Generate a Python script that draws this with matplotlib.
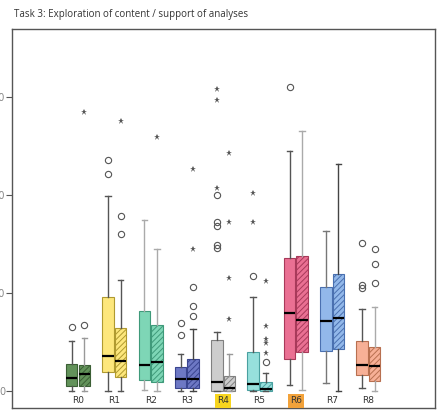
import numpy as np
import matplotlib
matplotlib.use("Agg")
import matplotlib.pyplot as plt

# Group labels and fill colours
groups = ["R0", "R1", "R2", "R3", "R4", "R5", "R6", "R7", "R8"]
fills = ["#62925a", "#fde77c", "#7ed6b6", "#6d78c4", "#cdcdcd",
         "#96e0dc", "#ea7093", "#92b8ea", "#f7b096"]
edges = ["#3b5f35", "#b09a30", "#3f9a7a", "#3a4590", "#808080",
         "#4aa0a0", "#a83a5a", "#4a70b0", "#b87050"]

# Box statistics, plain boxes
solid_q1 = [5, 19, 11, 3.4, 0.3, 1, 33, 41, 16]
solid_med = [13, 36, 27, 12, 9, 7, 80, 71, 26.5]
solid_q3 = [28, 96, 82, 24.5, 52, 39.5, 136, 106, 51]
solid_lo = [0, 0, 1, 0, 0, 0, 6, 8.5, 2.7]
solid_hi = [51, 199, 175, 38, 60, 96, 245, 163, 84]

# Box statistics, hatched boxes
hatch_q1 = [5, 14, 9.5, 2.7, 0.3, 0, 40, 42.5, 10.5]
hatch_med = [17, 31, 30, 12.6, 2.7, 1.7, 72, 75, 25]
hatch_q3 = [26.5, 64, 67, 32.7, 15.3, 9, 138, 119, 45]
hatch_lo = [0, 0, 0, 0, 0, 0, 1, 0, 0]
hatch_hi = [54, 113, 145, 63, 37.4, 18, 265, 232, 86]

# Outliers (circles) and extreme values (stars)
solid_circles = [[65], [236, 221], [], [69, 57], [146, 149, 200, 172, 168],
                 [117], [310.5], [], [151, 108, 105]]
solid_stars = [[], [], [], [], [308, 297, 207], [202, 172], [], [], []]
hatch_circles = [[67], [179, 160], [], [106, 87, 77], [], [30], [], [],
                 [145, 130, 110]]
hatch_stars = [[285], [276], [259], [145, 226.5], [115, 73.5, 242.5, 172],
               [112.6, 66, 53, 49, 38.5], [], [], []]

# Whisker shades
solid_wcol = ["#555555", "#555555", "#aaaaaa", "#555555", "#555555",
              "#555555", "#555555", "#777777", "#555555"]
hatch_wcol = ["#999999", "#555555", "#aaaaaa", "#444444", "#999999",
              "#555555", "#aaaaaa", "#444444", "#aaaaaa"]

label_bg = {"R4": "#f7d51e", "R6": "#f2a23a"}

off = 0.173
width = 0.317

fig = plt.figure(figsize=(4.39, 4.12), dpi=100)
ax = fig.add_axes([12 / 439, 4 / 412, 423 / 439, 379 / 412])

x = np.arange(len(groups))


def draw(pos, q1, med, q3, lo, hi, wcol, hatched):
    stats = []
    for i in range(len(groups)):
        stats.append(dict(med=med[i], q1=q1[i], q3=q3[i],
                          whislo=lo[i], whishi=hi[i], fliers=[]))
    bp = ax.bxp(stats, positions=pos, widths=width, patch_artist=True,
                showfliers=False, capwidths=0.15,
                medianprops=dict(color="black", linewidth=1.6))
    for i, box in enumerate(bp["boxes"]):
        box.set_facecolor(fills[i])
        box.set_edgecolor(edges[i])
        box.set_linewidth(0.8)
        if hatched:
            box.set_hatch("//////")
    for i in range(len(groups)):
        for ln in bp["whiskers"][2 * i:2 * i + 2] + bp["caps"][2 * i:2 * i + 2]:
            ln.set_color(wcol[i])
            ln.set_linewidth(1.0)


plt.rcParams["hatch.linewidth"] = 0.7
draw(x - off, solid_q1, solid_med, solid_q3, solid_lo, solid_hi, solid_wcol, False)
draw(x + off, hatch_q1, hatch_med, hatch_q3, hatch_lo, hatch_hi, hatch_wcol, True)

for i in range(len(groups)):
    for xs, circ, star in [(i - off, solid_circles[i], solid_stars[i]),
                           (i + off, hatch_circles[i], hatch_stars[i])]:
        if circ:
            ax.plot([xs] * len(circ), circ, "o", mfc="none", mec="#555555",
                    ms=4.5, mew=0.8)
        if star:
            ax.plot([xs] * len(star), star, "*", color="#555555", ms=4.5, mew=0)

for i, g in enumerate(groups):
    bbox = None
    if g in label_bg:
        bbox = dict(boxstyle="square,pad=0.25", fc=label_bg[g], ec="none")
    ax.text(i, -10, g, ha="center", va="center", fontsize=6.5,
            color="#333333", bbox=bbox)

ax.set_xlim(-1.818, 9.835)
ax.set_ylim(-17.35, 369.4)
ax.set_xticks([])
ax.set_yticks([0, 100, 200, 300])
ax.tick_params(axis="y", length=4, width=0.8, colors="#555555",
               labelsize=7, labelcolor="#888888", pad=1)
for s in ax.spines.values():
    s.set_color("#555555")
    s.set_linewidth(1.0)

fig.text(14 / 439, 1 - 14 / 412, "Task 3: Exploration of content / support of analyses",
         ha="left", va="center", fontsize=7, color="#333333", family="Open Sans")

fig.savefig("out.png", dpi=100)
